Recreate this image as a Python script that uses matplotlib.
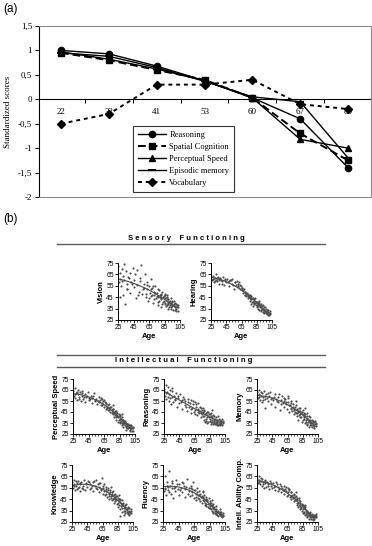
"""Age trends in cognition: (a) standardized group means, (b) scatter panels."""

import matplotlib
matplotlib.use("Agg")
import matplotlib.pyplot as plt
import numpy as np
from matplotlib.lines import Line2D

# ---- panel (a) data ----
age_groups = ["22", "32", "41", "53", "60", "67", "80"]
reasoning = [1.0, 0.93, 0.68, 0.38, 0.03, -0.40, -1.40]
spatial = [0.95, 0.80, 0.60, 0.40, 0.03, -0.70, -1.25]
speed = [0.97, 0.82, 0.62, 0.38, 0.03, -0.82, -1.00]
episodic = [0.95, 0.88, 0.65, 0.37, 0.05, -0.05, -1.20]
vocabulary = [-0.50, -0.30, 0.30, 0.30, 0.40, -0.10, -0.20]

# ---- panel (b) data: one age list shared by all scatter panels ----
ages = [25, 26, 27, 28, 29, 30, 31, 32, 33, 34, 35, 36, 37, 38,
        40, 41, 42, 44, 45, 46, 48, 49, 50, 52, 53, 55, 56, 58, 59,
        60, 61, 62, 63, 64, 65, 66, 67, 68, 69, 70, 71, 72, 73, 74, 75, 76, 77,
        78, 78, 79, 80, 80, 81, 82, 83, 84, 85, 85, 86, 87, 88, 88, 89, 90, 90,
        91, 92, 93, 93, 94, 95, 95, 96, 97, 98, 99, 100, 101, 102, 103,
        27, 30, 33, 36, 39, 43, 47, 51, 54, 57,
        61, 63, 65, 67, 69, 70, 72, 73, 75, 76, 77, 79,
        80, 81, 82, 83, 84, 85, 86, 87, 88, 89, 90, 91, 92, 93, 94, 95, 96, 97,
        98, 99, 100, 100, 101, 102, 88, 76]

vision = [72, 58, 66, 61, 55, 70, 47, 64, 60, 39, 68, 57, 52, 63,
          49, 66, 58, 71, 54, 60, 44, 69, 56, 50, 62, 73, 48, 57, 53,
          65, 45, 52, 58, 42, 55, 49, 61, 46, 53, 40, 50, 47, 55, 44, 49, 38, 46,
          51, 42, 45, 48, 36, 44, 50, 41, 46, 39, 44, 47, 37, 42, 45, 39, 43, 35,
          41, 38, 44, 36, 40, 37, 42, 34, 39, 36, 40, 35, 38, 33, 36,
          45, 59, 74, 52, 62, 57, 65, 47, 59, 52,
          48, 56, 44, 52, 47, 55, 43, 49, 46, 52, 41, 47,
          43, 47, 39, 45, 42, 48, 40, 44, 38, 43, 40, 36, 42, 39, 35, 41, 38, 42,
          34, 37, 39, 33, 36, 38, 47, 45]
hearing = [63, 60, 64, 61, 58, 62, 65, 60, 59, 63, 61, 57, 62, 60,
           59, 63, 56, 60, 58, 61, 55, 59, 60, 57, 61, 52, 58, 56, 59,
           57, 54, 58, 52, 55, 51, 53, 49, 52, 47, 50, 46, 49, 44, 47, 45, 42, 46,
           43, 39, 44, 41, 37, 42, 40, 44, 38, 41, 36, 39, 37, 40, 34, 38, 36, 33,
           37, 35, 32, 38, 34, 36, 31, 33, 35, 30, 34, 32, 29, 33, 31,
           61, 59, 62, 60, 57, 61, 58, 60, 56, 58,
           55, 56, 53, 51, 50, 47, 48, 46, 47, 44, 43, 41,
           44, 39, 43, 40, 41, 38, 41, 35, 38, 36, 39, 34, 37, 35, 32, 34, 36, 31,
           33, 31, 34, 29, 31, 30, 42, 47]
perc_speed = [64, 60, 67, 58, 62, 56, 65, 61, 59, 63, 55, 60, 62, 57,
              61, 54, 59, 63, 58, 56, 60, 53, 58, 62, 55, 57, 52, 59, 54,
              56, 51, 57, 53, 55, 50, 54, 48, 53, 50, 47, 52, 49, 45, 50, 47, 43, 48,
              44, 40, 46, 42, 38, 45, 41, 36, 43, 39, 35, 41, 37, 40, 33, 36, 38, 31,
              35, 37, 32, 29, 35, 33, 30, 34, 31, 33, 29, 32, 30, 31, 28,
              61, 63, 57, 64, 59, 60, 57, 60, 56, 55,
              58, 51, 56, 52, 49, 51, 47, 50, 44, 48, 45, 42,
              46, 40, 44, 40, 38, 42, 36, 39, 35, 38, 34, 37, 33, 35, 31, 34, 30, 33,
              28, 31, 30, 33, 28, 30, 43, 51]
reason = [66, 60, 70, 57, 63, 68, 55, 61, 65, 52, 59, 64, 54, 60,
          57, 62, 50, 58, 53, 61, 48, 56, 59, 51, 55, 46, 57, 50, 53,
          44, 56, 49, 52, 45, 54, 47, 50, 42, 48, 53, 44, 46, 40, 49, 43, 45, 38,
          47, 41, 36, 44, 39, 42, 35, 45, 40, 37, 43, 34, 41, 38, 36, 42, 35, 39,
          37, 34, 40, 36, 33, 38, 35, 41, 34, 37, 33, 36, 39, 35, 37,
          62, 59, 58, 67, 56, 60, 54, 57, 50, 54,
          48, 55, 43, 52, 45, 47, 50, 44, 47, 41, 46, 43,
          37, 45, 40, 36, 43, 39, 44, 36, 40, 34, 41, 36, 39, 34, 38, 36, 33, 39,
          35, 38, 34, 37, 33, 36, 47, 49]
memory = [63, 58, 61, 65, 56, 60, 62, 54, 59, 64, 57, 49, 61, 58,
          55, 60, 63, 52, 58, 56, 61, 50, 57, 54, 59, 47, 56, 60, 53,
          55, 50, 57, 52, 48, 54, 58, 45, 51, 49, 53, 46, 50, 43, 48, 45, 51, 41,
          47, 44, 38, 46, 42, 49, 40, 44, 36, 42, 47, 39, 43, 35, 41, 38, 44, 33,
          39, 36, 41, 31, 37, 35, 40, 33, 38, 34, 36, 32, 37, 34, 35,
          59, 63, 56, 60, 62, 57, 59, 55, 61, 52,
          58, 54, 60, 51, 55, 48, 52, 47, 50, 44, 48, 45,
          49, 43, 46, 40, 45, 38, 44, 40, 43, 36, 41, 34, 39, 37, 33, 38, 35, 31,
          37, 33, 36, 30, 34, 32, 49, 55]
knowledge = [60, 55, 58, 62, 53, 57, 59, 54, 61, 56, 52, 58, 60, 55,
             57, 62, 53, 59, 56, 61, 54, 58, 55, 60, 52, 57, 62, 54, 58,
             51, 56, 59, 53, 64, 50, 55, 58, 49, 54, 52, 47, 55, 50, 45, 53, 48, 51,
             44, 49, 52, 46, 42, 50, 45, 48, 41, 46, 38, 49, 43, 45, 36, 42, 44, 34,
             40, 42, 37, 31, 40, 38, 35, 41, 36, 38, 33, 37, 34, 36, 33,
             57, 61, 55, 59, 54, 58, 60, 57, 61, 55,
             59, 54, 57, 52, 56, 50, 53, 48, 51, 46, 50, 45,
             49, 43, 47, 44, 48, 42, 45, 40, 44, 39, 41, 37, 40, 35, 38, 33, 36, 34,
             37, 32, 35, 31, 33, 35, 30, 56]
fluency = [58, 52, 65, 55, 49, 60, 56, 53, 70, 57, 50, 55, 59, 46,
           56, 52, 62, 54, 58, 49, 55, 60, 51, 57, 47, 56, 63, 52, 55,
           48, 57, 51, 54, 60, 46, 53, 50, 44, 55, 49, 52, 45, 50, 47, 42, 51, 46,
           43, 49, 40, 45, 47, 41, 44, 38, 46, 40, 43, 37, 42, 39, 35, 41, 37, 33,
           38, 35, 39, 32, 36, 34, 31, 35, 33, 36, 32, 34, 31, 33, 30,
           54, 57, 51, 61, 55, 58, 53, 59, 54, 50,
           55, 49, 53, 47, 51, 46, 49, 43, 48, 44, 47, 42,
           45, 39, 43, 41, 37, 42, 39, 36, 40, 37, 34, 36, 33, 35, 32, 34, 30, 33,
           31, 34, 30, 32, 29, 31, 44, 52]
intell = [63, 59, 62, 65, 58, 61, 57, 63, 60, 55, 59, 62, 56, 60,
          58, 54, 61, 57, 55, 59, 53, 57, 60, 52, 56, 58, 51, 55, 53,
          57, 50, 54, 52, 48, 55, 49, 53, 47, 51, 45, 49, 46, 50, 43, 47, 44, 40,
          46, 42, 38, 44, 40, 36, 42, 38, 35, 40, 33, 37, 34, 38, 31, 35, 33, 29,
          34, 31, 33, 28, 32, 30, 34, 29, 32, 30, 28, 31, 29, 32, 30,
          60, 64, 58, 61, 57, 59, 56, 58, 54, 57,
          53, 56, 51, 54, 48, 51, 47, 49, 44, 48, 45, 42,
          46, 39, 43, 37, 41, 36, 39, 33, 36, 32, 35, 30, 33, 31, 29, 32, 28, 31,
          29, 27, 30, 28, 31, 29, 40, 51]

serif = "Liberation Serif"
sans = "Liberation Sans"

fig = plt.figure(figsize=(3.72, 5.46), dpi=100)
W, H = 372.0, 546.0


def fig_rect(left, top, right, bottom):
    return [left / W, 1 - bottom / H, (right - left) / W, (bottom - top) / H]


# ---------------- panel (a) ----------------
ax = fig.add_axes(fig_rect(39, 26, 371, 197))
x = np.arange(len(age_groups))
ax.plot(x, reasoning, color="k", lw=1, marker="o", ms=4.5, label="Reasoning")
ax.plot(x, spatial, color="k", lw=1.4, ls=(0, (4, 2)), marker="s", ms=5,
        label="Spatial Cognition")
ax.plot(x, speed, color="k", lw=1, marker="^", ms=5, label="Perceptual Speed")
ax.plot(x, episodic, color="k", lw=1, marker="_", ms=6, mew=1.5,
        label="Episodic memory")
ax.plot(x, vocabulary, color="k", lw=1.4, ls=(0, (2, 2)), marker="D", ms=4.5,
        label="Vocabulary")

ax.set_xlim(-0.46, 6.48)
ax.set_ylim(-2, 1.5)
ax.set_xticks([])
yt = [1.5, 1, 0.5, 0, -0.5, -1, -1.5, -2]
ax.set_yticks(yt)
ax.set_yticklabels([("%g" % v).replace(".", ",") for v in yt],
                   fontsize=6.5, family=serif)
ax.tick_params(axis="y", length=3, width=0.7, pad=2)
ax.set_ylabel("Standardized scores", fontsize=6.5, family=serif, labelpad=4)
for side in ["top", "right", "bottom"]:
    ax.spines[side].set_color("0.55")
    ax.spines[side].set_linewidth(0.8)
ax.spines["left"].set_linewidth(0.8)

# zero axis carrying the age-group labels
sec = ax.secondary_xaxis(2 / 3.5)
sec.set_alignment("bottom")
sec.set_xticks(x)
sec.set_xticklabels(age_groups, fontsize=6.5, family=serif)
sec.set_xticks(np.arange(-0.5, 7, 1), minor=True)
sec.tick_params(which="major", length=0, pad=6)
sec.tick_params(which="minor", length=3, width=0.7, direction="out")
sec.spines["bottom"].set_linewidth(0.8)

leg = ax.legend(loc="lower left", bbox_to_anchor=(0.283, 0.03),
                prop={"family": serif, "size": 6}, frameon=True,
                fancybox=False, edgecolor="k", handlelength=3.4,
                labelspacing=0.5, borderaxespad=0, borderpad=0.55,
                handletextpad=0.4)
leg.get_frame().set_linewidth(0.8)

fig.text(3 / W, 1 - 9 / H, "(a)", fontsize=8.5, family=sans, va="center")
fig.text(3 / W, 1 - 219 / H, "(b)", fontsize=8.5, family=sans, va="center")


# ---------------- panel (b) headers ----------------
def rule(y, x0=57, x1=325):
    fig.add_artist(Line2D([x0 / W, x1 / W], [1 - y / H, 1 - y / H],
                          color="0.35", lw=1.0))


fig.text(186 / W, 1 - 238 / H, "S e n s o r y    F u n c t i o n i n g",
         fontsize=5.5, family=sans, weight="bold", ha="center", va="center")
rule(244)
rule(355)
fig.text(184 / W, 1 - 361 / H,
         "I n t e l l e c t u a l    F u n c t i o n i n g",
         fontsize=5.5, family=sans, weight="bold", ha="center", va="center")
rule(367)

# ---------------- scatter panels ----------------
panels = [
    ("Vision", vision, (118, 263, 180, 320)),
    ("Hearing", hearing, (211, 263, 272, 320)),
    ("Perceptual Speed", perc_speed, (73, 379, 135, 434)),
    ("Reasoning", reason, (164, 379, 225, 434)),
    ("Memory", memory, (257, 379, 318, 434)),
    ("Knowledge", knowledge, (72, 465, 133, 522)),
    ("Fluency", fluency, (163, 465, 225, 522)),
    ("Intell. Ability Comp.", intell, (257, 465, 318, 522)),
]

a = np.array(ages, dtype=float)
for name, scores, (l, t, r, b) in panels:
    sx = fig.add_axes(fig_rect(l, t, r, b))
    s = np.array(scores, dtype=float)
    sx.scatter(a, s, s=2.4, color="0.3", linewidths=0)
    coef = np.polyfit(a, s, 2)
    xx = np.linspace(25, 100, 60)
    sx.plot(xx, np.polyval(coef, xx), color="0.3", lw=0.8)
    sx.set_xlim(25, 105)
    sx.set_ylim(25, 75)
    sx.set_xticks([25, 45, 65, 85, 105])
    sx.set_xticks(np.arange(25, 106, 4), minor=True)
    sx.set_yticks([25, 35, 45, 55, 65, 75])
    sx.tick_params(labelsize=4.8, length=2, width=0.6, pad=1)
    sx.tick_params(which="minor", length=1.2, width=0.5)
    for lab in sx.get_xticklabels() + sx.get_yticklabels():
        lab.set_family(sans)
    for side in ["top", "right"]:
        sx.spines[side].set_visible(False)
    for side in ["left", "bottom"]:
        sx.spines[side].set_linewidth(0.7)
    sx.set_xlabel("Age", fontsize=5.5, family=sans, weight="bold", labelpad=1)
    sx.set_ylabel(name, fontsize=5.5, family=sans, weight="bold", labelpad=1)

fig.savefig("out.png", dpi=100)
